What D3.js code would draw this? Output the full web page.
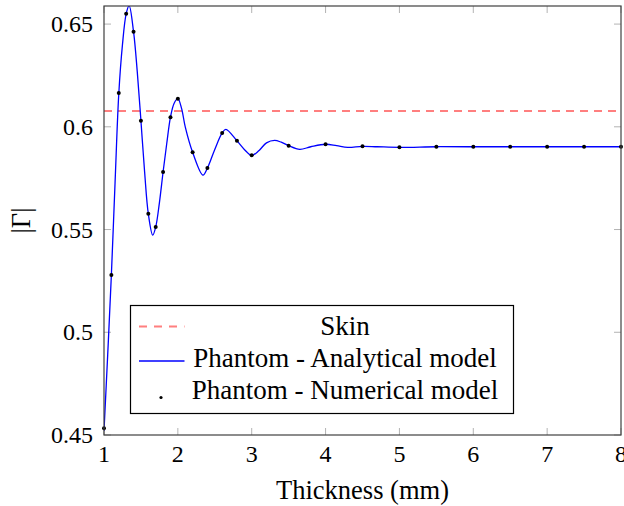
<!DOCTYPE html>
<html>
<head>
<meta charset="utf-8">
<script src="https://cdn.jsdelivr.net/npm/d3@7"></script>
<style>
  body { margin: 0; background: #fff; }
  text { font-family: "Liberation Serif", "DejaVu Serif", serif; fill: #000; }
</style>
</head>
<body>
<svg id="chart" width="624" height="506"></svg>
<script>
// skin reference level
const skinLevel = 0.6077;

// analytical model
const analyticX = [1.0, 1.05, 1.1, 1.15, 1.2, 1.25, 1.3, 1.34, 1.4, 1.45, 1.5, 1.55, 1.6, 1.66, 1.7, 1.75, 1.8, 1.85, 1.9, 1.95, 2.0, 2.05, 2.1, 2.2, 2.34, 2.4, 2.5, 2.6, 2.65, 2.8, 2.9, 3.0, 3.1, 3.2, 3.31, 3.4, 3.5, 3.65, 3.8, 4.0, 4.15, 4.3, 4.5, 4.7, 5.0, 5.5, 6.0, 6.5, 7.0, 7.5, 8.0];
const analyticY = [0.452, 0.489, 0.528, 0.573, 0.616, 0.640, 0.655, 0.659, 0.6463, 0.627, 0.603, 0.578, 0.5577, 0.5473, 0.5512, 0.563, 0.578, 0.592, 0.6047, 0.6115, 0.6137, 0.609, 0.600, 0.5876, 0.5765, 0.5799, 0.589, 0.597, 0.5988, 0.5932, 0.589, 0.5861, 0.5885, 0.5922, 0.5934, 0.5925, 0.5908, 0.5890, 0.5903, 0.5915, 0.5908, 0.5900, 0.5905, 0.5903, 0.5900, 0.5903, 0.5903, 0.5903, 0.5903, 0.5903, 0.5903];

// numerical model points
const numericX = [1.0, 1.1, 1.2, 1.3, 1.4, 1.5, 1.6, 1.7, 1.8, 1.9, 2.0, 2.2, 2.4, 2.6, 2.8, 3.0, 3.5, 4.0, 4.5, 5.0, 5.5, 6.0, 6.5, 7.0, 7.5, 8.0];
const numericY = [0.4533, 0.5279, 0.6164, 0.655, 0.6463, 0.603, 0.5577, 0.5512, 0.578, 0.6047, 0.6137, 0.5876, 0.5799, 0.597, 0.5932, 0.5861, 0.5908, 0.5915, 0.5905, 0.5900, 0.5903, 0.5903, 0.5903, 0.5903, 0.5903, 0.5903];

const xTicks = [1, 2, 3, 4, 5, 6, 7, 8];
const yTicks = [0.45, 0.5, 0.55, 0.6, 0.65];
const yTickLabels = ["0.45", "0.5", "0.55", "0.6", "0.65"];

const svg = d3.select("#chart"),
  margin = { top: 6, right: 3, bottom: 71, left: 104 },
  width = +svg.attr("width") - margin.left - margin.right,
  height = +svg.attr("height") - margin.top - margin.bottom;

const x = d3.scaleLinear().domain([1, 8]).range([0, width]);
const y = d3.scaleLinear().domain([0.45, 0.6588]).range([height, 0]);

const g = svg.append("g")
  .attr("transform", "translate(" + margin.left + "," + margin.top + ")");

svg.append("defs").append("clipPath").attr("id", "clip")
  .append("rect").attr("width", width).attr("height", height);

// ticks, inward on all four sides
const tickLen = 7;
const tickColor = "#b3b3b3";
g.selectAll(".xtick-b").data(xTicks).enter().append("line")
  .attr("x1", d => x(d)).attr("x2", d => x(d))
  .attr("y1", height).attr("y2", height - tickLen)
  .attr("stroke", tickColor);
g.selectAll(".xtick-t").data(xTicks).enter().append("line")
  .attr("x1", d => x(d)).attr("x2", d => x(d))
  .attr("y1", 0).attr("y2", tickLen)
  .attr("stroke", tickColor);
g.selectAll(".ytick-l").data(yTicks).enter().append("line")
  .attr("x1", 0).attr("x2", tickLen)
  .attr("y1", d => y(d)).attr("y2", d => y(d))
  .attr("stroke", tickColor);
g.selectAll(".ytick-r").data(yTicks).enter().append("line")
  .attr("x1", width).attr("x2", width - tickLen)
  .attr("y1", d => y(d)).attr("y2", d => y(d))
  .attr("stroke", tickColor);

// tick labels
g.selectAll(".xlab").data(xTicks).enter().append("text")
  .attr("x", d => x(d)).attr("y", height + 27)
  .attr("text-anchor", "middle")
  .style("font-size", "24px")
  .text(d => d);
g.selectAll(".ylab").data(yTicks).enter().append("text")
  .attr("x", -11).attr("y", d => y(d) + 8)
  .attr("text-anchor", "end")
  .style("font-size", "24px")
  .text((d, i) => yTickLabels[i]);

// axis titles
svg.append("text")
  .attr("x", margin.left + width / 2).attr("y", 499)
  .attr("text-anchor", "middle")
  .style("font-size", "26.5px")
  .text("Thickness (mm)");
svg.append("text")
  .attr("transform", "translate(30," + (margin.top + height / 2) + ") rotate(-90)")
  .attr("text-anchor", "middle")
  .style("font-size", "26.5px")
  .text("|Γ|");

const plot = g.append("g").attr("clip-path", "url(#clip)");

// skin line
plot.append("line")
  .attr("x1", 0).attr("x2", width)
  .attr("y1", y(skinLevel)).attr("y2", y(skinLevel))
  .attr("stroke", "#ff7f7f").attr("stroke-width", 2)
  .attr("stroke-dasharray", "8,6");

// analytical curve
const analytic = analyticX.map((v, i) => [v, analyticY[i]]);
plot.append("path")
  .datum(analytic)
  .attr("fill", "none")
  .attr("stroke", "#0000ff")
  .attr("stroke-width", 1.3)
  .attr("d", d3.line().x(d => x(d[0])).y(d => y(d[1])).curve(d3.curveCatmullRom.alpha(0.5)));

// numerical points
const numeric = numericX.map((v, i) => [v, numericY[i]]);
g.selectAll(".dot").data(numeric).enter().append("circle")
  .attr("cx", d => x(d[0])).attr("cy", d => y(d[1]))
  .attr("r", 2).attr("fill", "#000");

// frame
g.append("rect")
  .attr("width", width).attr("height", height)
  .attr("fill", "none").attr("stroke", "#404040").attr("stroke-width", 1.2);

// legend
const lg = svg.append("g").attr("transform", "translate(130.5,305.5)");
lg.append("rect").attr("width", 383).attr("height", 108)
  .attr("fill", "#fff").attr("stroke", "#000").attr("stroke-width", 1.2);
lg.append("line").attr("x1", 8.5).attr("x2", 54).attr("y1", 21).attr("y2", 21)
  .attr("stroke", "#ff7f7f").attr("stroke-width", 2).attr("stroke-dasharray", "8,7");
lg.append("line").attr("x1", 8.5).attr("x2", 54).attr("y1", 55.5).attr("y2", 55.5)
  .attr("stroke", "#0000ff").attr("stroke-width", 1.5);
lg.append("circle").attr("cx", 30.5).attr("cy", 92).attr("r", 1.6).attr("fill", "#000");
const legendText = ["Skin", "Phantom - Analytical model", "Phantom - Numerical model"];
lg.selectAll(".lt").data(legendText).enter().append("text")
  .attr("x", 214.5).attr("y", (d, i) => 29 + i * 32)
  .attr("text-anchor", "middle")
  .style("font-size", "27px")
  .text(d => d);
</script>
</body>
</html>
